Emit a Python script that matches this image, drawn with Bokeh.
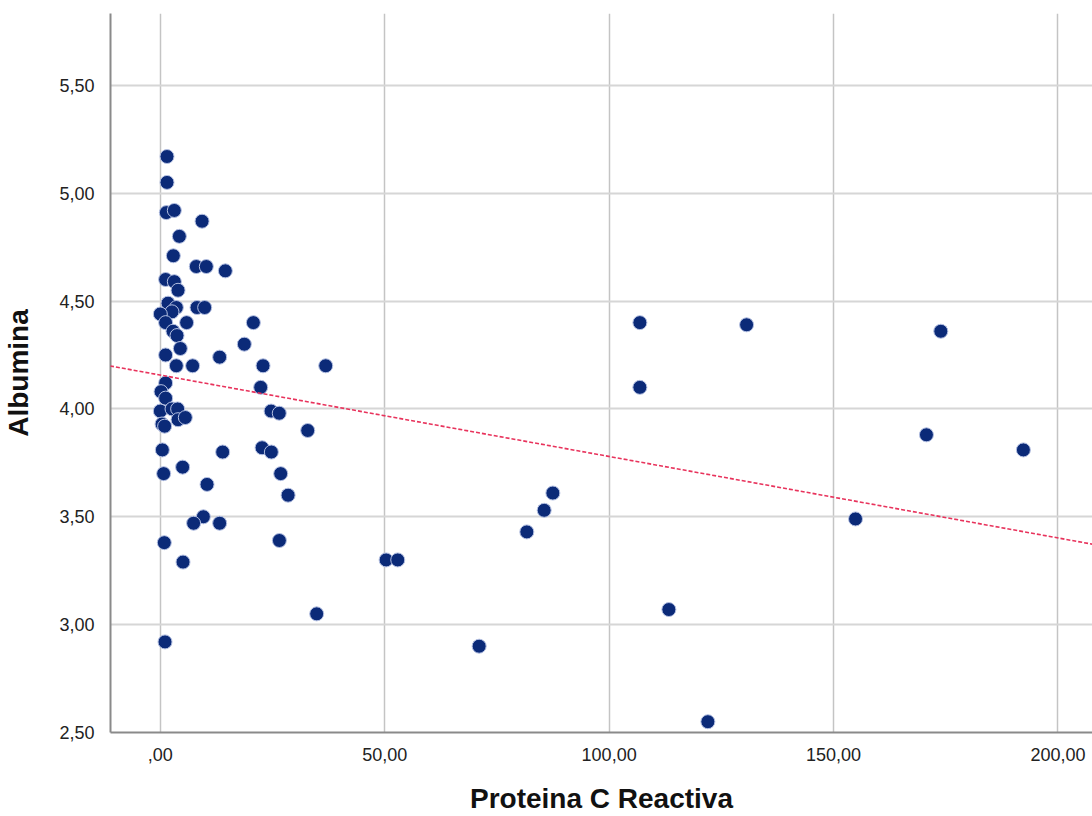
from bokeh.plotting import figure
from bokeh.models import Range1d, FixedTicker, Slope, ColumnDataSource
from bokeh.embed import file_html
from bokeh.resources import INLINE

# Proteina C Reactiva (x) and Albumina (y)
crp = [1.49, 1.49, 1.34, 3.12, 9.30, 4.24, 2.90, 8.02, 10.25, 14.49,
       1.18, 3.12, 3.95, 1.72, 3.57, 8.18, 9.88, 2.60, 0.00, 1.18,
       5.86, 20.73, 2.83, 3.72, 18.72, 4.46, 1.18, 13.22, 3.57, 7.20,
       22.89, 36.85, 1.18, 0.16, 1.18, 22.36, 0.00, 2.61, 3.86, 24.68,
       26.50, 3.95, 5.57, 0.38, 0.96, 32.84, 0.45, 13.89, 22.67, 24.74,
       0.74, 4.97, 26.82, 10.41, 28.47, 9.59, 7.42, 13.22, 0.89, 26.53,
       5.06, 34.84, 1.05, 50.31, 52.90, 71.04, 81.66, 85.53, 87.46, 106.85,
       106.85, 113.31, 122.0, 130.63, 154.9, 170.7, 173.9, 192.3]
albumina = [5.17, 5.05, 4.91, 4.92, 4.87, 4.80, 4.71, 4.66, 4.66, 4.64,
            4.60, 4.59, 4.55, 4.49, 4.47, 4.47, 4.47, 4.45, 4.44, 4.40,
            4.40, 4.40, 4.36, 4.34, 4.30, 4.28, 4.25, 4.24, 4.20, 4.20,
            4.20, 4.20, 4.12, 4.08, 4.05, 4.10, 3.99, 4.00, 4.00, 3.99,
            3.98, 3.95, 3.96, 3.93, 3.92, 3.90, 3.81, 3.80, 3.82, 3.80,
            3.70, 3.73, 3.70, 3.65, 3.60, 3.50, 3.47, 3.47, 3.38, 3.39,
            3.29, 3.05, 2.92, 3.30, 3.30, 2.90, 3.43, 3.53, 3.61, 4.40,
            4.10, 3.07, 2.55, 4.39, 3.49, 3.88, 4.36, 3.81]

# fit line
fit_intercept = 4.157
fit_slope = -0.003775

x_ticks = [0, 50, 100, 150, 200]
x_tick_labels = [",00", "50,00", "100,00", "150,00", "200,00"]
y_ticks = [2.5, 3.0, 3.5, 4.0, 4.5, 5.0, 5.5]
y_tick_labels = ["2,50", "3,00", "3,50", "4,00", "4,50", "5,00", "5,50"]

p = figure(width=1092, height=816, output_backend="svg", toolbar_location=None,
           x_range=Range1d(-11.1, 207.7), y_range=Range1d(2.5, 5.833),
           min_border_left=110, min_border_right=0, min_border_top=13,
           min_border_bottom=83)
p.outline_line_color = None
p.background_fill_color = "white"
p.border_fill_color = "white"

p.xaxis.ticker = FixedTicker(ticks=x_ticks)
p.yaxis.ticker = FixedTicker(ticks=y_ticks)
p.xaxis.major_label_overrides = {t: l for t, l in zip(x_ticks, x_tick_labels)}
p.yaxis.major_label_overrides = {t: l for t, l in zip(y_ticks, y_tick_labels)}

for ax in (p.xaxis, p.yaxis):
    ax.major_tick_line_color = None
    ax.minor_tick_line_color = None
    ax.axis_line_color = "#8a8a8a"
    ax.axis_line_width = 2
    ax.major_label_text_font = "Liberation Sans"
    ax.major_label_text_font_size = "18px"
    ax.major_label_text_color = "#222222"
    ax.axis_label_text_font = "Liberation Sans"
    ax.axis_label_text_font_size = "28px"
    ax.axis_label_text_font_style = "bold"
    ax.axis_label_text_color = "#111111"

p.xaxis.axis_label = "Proteina C Reactiva"
p.yaxis.axis_label = "Albumina"
p.xaxis.major_label_standoff = 9
p.yaxis.major_label_standoff = 10
p.xaxis.axis_label_standoff = 19
p.yaxis.axis_label_standoff = 22

p.xgrid.grid_line_color = "#c4c4c4"
p.xgrid.grid_line_width = 1.5
p.ygrid.grid_line_color = "#d6d6d6"
p.ygrid.grid_line_width = 2

src = ColumnDataSource(data=dict(x=crp, y=albumina))
p.scatter("x", "y", source=src, size=14, fill_color="#0b2a78",
          line_color="#b4c0e2", line_width=1)

p.add_layout(Slope(gradient=fit_slope, y_intercept=fit_intercept,
                   line_color="#e8335c", line_width=1.6, line_dash="4 2"))

open("out.html", "w").write(file_html(p, INLINE))
